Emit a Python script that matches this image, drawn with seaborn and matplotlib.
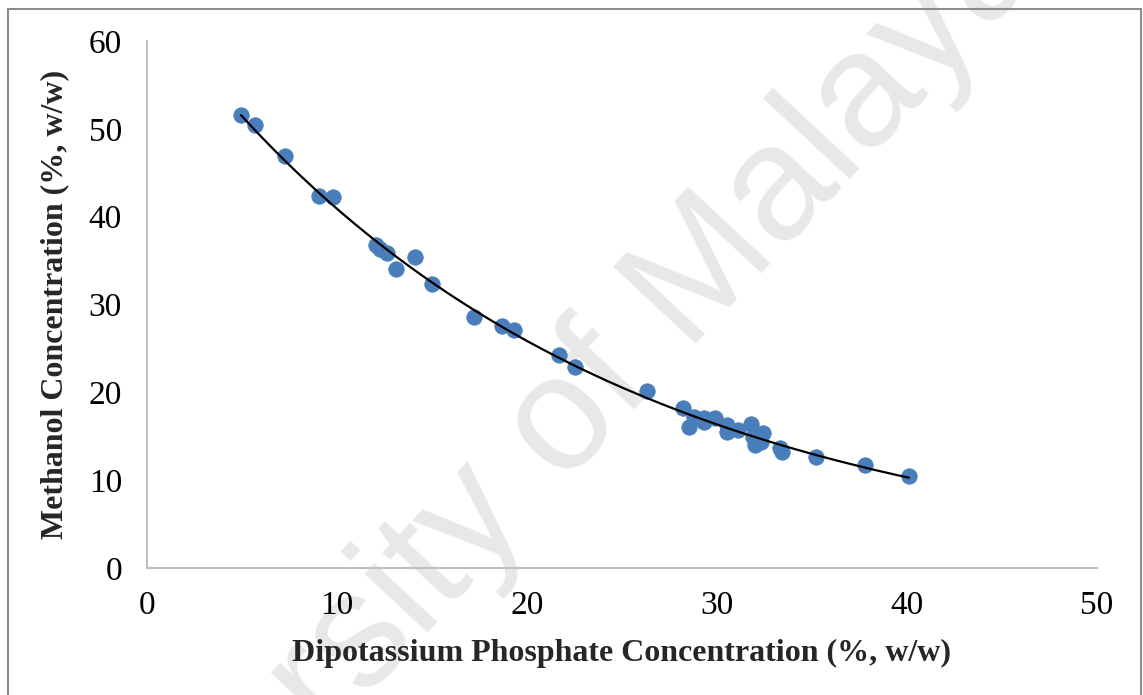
import numpy as np
import pandas as pd
import matplotlib
matplotlib.use("Agg")
import matplotlib.pyplot as plt
import seaborn as sns
from matplotlib.patches import Rectangle

# Data
k2hpo4 = [4.95, 5.68, 7.26, 9.05, 9.79, 12.05, 12.26, 12.63, 13.1, 14.1, 15.0,
          17.2, 18.7, 19.3, 21.7, 22.5, 26.3, 28.2, 28.5, 28.8, 29.3, 29.3,
          29.9, 30.5, 30.5, 31.1, 31.8, 31.9, 32.0, 32.4, 32.3, 33.3, 33.4,
          35.2, 37.8, 40.1]
methanol = [51.6, 50.4, 46.9, 42.4, 42.2, 36.8, 36.3, 35.9, 34.0, 35.4, 32.3,
            28.6, 27.6, 27.1, 24.3, 22.9, 20.2, 18.2, 16.05, 17.2, 17.1, 16.6,
            17.1, 16.3, 15.5, 15.7, 16.4, 14.9, 14.0, 15.4, 14.3, 13.7, 13.2,
            12.6, 11.7, 10.5]
x_ticks = [0, 10, 20, 30, 40, 50]
y_ticks = [0, 10, 20, 30, 40, 50, 60]
x_label = "Dipotassium Phosphate Concentration (%, w/w)"
y_label = "Methanol Concentration (%, w/w)"
watermark_head = "University of "
watermark_tail = "Malaya"

df = pd.DataFrame({"x": k2hpo4, "y": methanol})

# exponential trendline (least squares on ln y), evaluated over the data range
b, ln_a = np.polyfit(df["x"], np.log(df["y"]), 1)
fit_x = np.linspace(df["x"].min(), df["x"].max(), 200)
fit = pd.DataFrame({"x": fit_x, "y": np.exp(ln_a + b * fit_x)})

sns.set_style("white")
plt.rcParams["font.family"] = ["Liberation Serif", "DejaVu Serif"]

W, H = 1143, 695
fig = plt.figure(figsize=(W / 100, H / 100), dpi=100)
ax = fig.add_axes([147 / W, 1 - 568 / H, (1097 - 147) / W, (568 - 41) / H])

# watermark: place so that the "M" of "Malaya" starts where it does in the reference
angle = 47
wm_size = 118
renderer = fig.canvas.get_renderer()


def ink_width(s):
    t = fig.text(0, 0, s, fontsize=wm_size, family="Liberation Sans")
    w = t.get_window_extent(renderer).width
    t.remove()
    return w


head_w = ink_width(watermark_head + "M") - ink_width("M")
m_px = np.array([687.0, H - 353.0])
d = np.array([np.cos(np.radians(angle)), np.sin(np.radians(angle))])
start = m_px - head_w * d
ax.text(start[0] / W, start[1] / H, watermark_head + watermark_tail,
        transform=fig.transFigure, rotation=angle, rotation_mode="anchor",
        ha="left", va="baseline", fontsize=wm_size, color="#e8e8e8",
        family="Liberation Sans", clip_on=False, zorder=0)

sns.scatterplot(data=df, x="x", y="y", ax=ax, s=125, color="#4a7ebb",
                edgecolor="#4a7ebb", linewidth=0.5, zorder=3)
sns.lineplot(data=fit, x="x", y="y", ax=ax, color="black", lw=1.6, zorder=4)

ax.set_xlim(0, 50)
ax.set_ylim(0, 60)
ax.set_xticks(x_ticks)
ax.set_yticks(y_ticks)
ax.set_xlabel(x_label, fontsize=23, fontweight="bold", labelpad=13)
ax.set_ylabel(y_label, fontsize=23, fontweight="bold", labelpad=14)
ax.tick_params(axis="both", labelsize=24, labelcolor="black", length=6,
               width=1.2, direction="out", color="#bfbfbf")
ax.tick_params(axis="x", pad=10)
ax.tick_params(axis="y", pad=12)
for s in ["top", "right"]:
    ax.spines[s].set_visible(False)
for s in ["left", "bottom"]:
    ax.spines[s].set_color("#bfbfbf")
    ax.spines[s].set_linewidth(1.5)
ax.patch.set_alpha(0)

# figure border
fig.patches.append(Rectangle((8 / W, -0.01), (1141 - 8) / W, 1.01 - 9 / H,
                             transform=fig.transFigure, fill=False,
                             edgecolor="#8c8c8c", lw=1.5, zorder=10))

fig.savefig("out.png", dpi=100)
